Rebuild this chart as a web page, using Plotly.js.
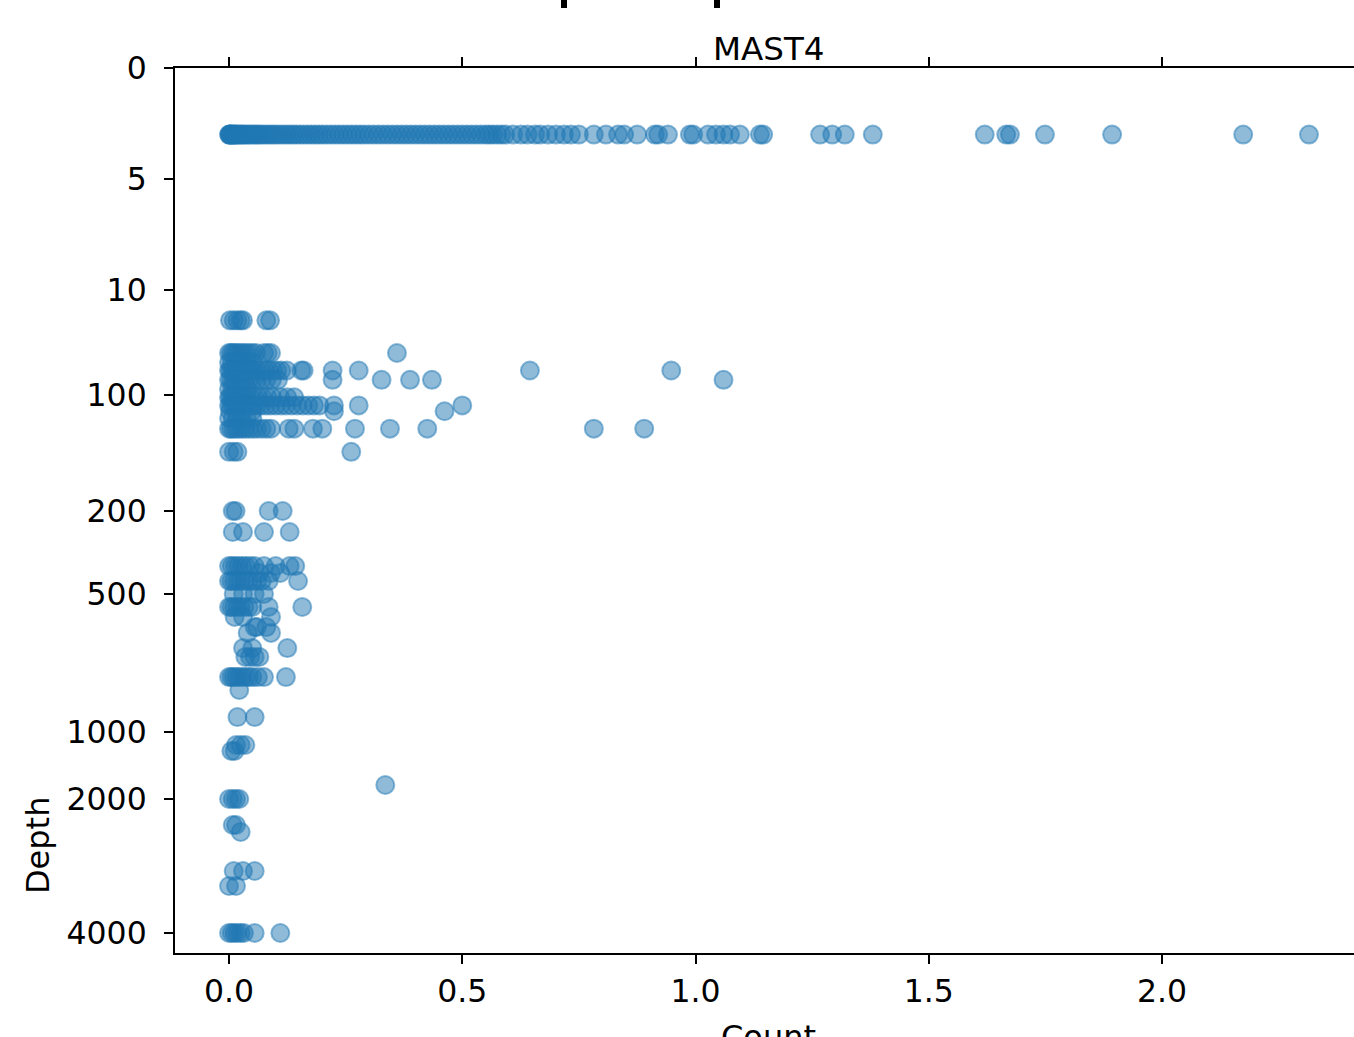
<!DOCTYPE html>
<html>
<head>
<meta charset="utf-8">
<script src="https://cdn.plot.ly/plotly-3.0.1.min.js"></script>
<style>html,body{margin:0;padding:0;overflow:hidden;background:#fff}</style>
</head>
<body>
<div id="chart" style="width:1362px;height:1037px"></div>
<script>
// Y scale: tick depths and their (non-uniform) positions on the depth axis
const tickDepths = [0, 5, 10, 100, 200, 500, 1000, 2000, 4000];
const tickLabels = ['0', '5', '10', '100', '200', '500', '1000', '2000', '4000'];
const tickPositions = [0, 111, 222, 327, 443, 526, 664, 731, 865];

const xTickVals = [0, 0.5, 1.0, 1.5, 2.0];
const xTickText = ['0.0', '0.5', '1.0', '1.5', '2.0'];

// Depth of each sampled level
const rowDepths = [3, 36, 64, 72, 79, 87, 95, 102, 109, 114, 120, 129, 149, 200, 276, 399, 424, 453, 500, 547, 583, 620, 641, 696, 728, 801, 848, 946, 1194, 1284, 1791, 2000, 2388, 2493, 3075, 3299, 4000];

// MAST4 counts observed at each level (same order as rowDepths)
const rowCounts = [
  [0, 0.001, 0.002, 0.003, 0.004, 0.006, 0.008, 0.01, 0.012, 0.014, 0.016, 0.019, 0.022, 0.025, 0.028, 0.031, 0.035, 0.039, 0.043, 0.047, 0.052, 0.057, 0.062, 0.067, 0.072, 0.078, 0.084, 0.09, 0.096, 0.102, 0.109, 0.116, 0.123, 0.13, 0.137, 0.144, 0.152, 0.16, 0.168, 0.176, 0.184, 0.192, 0.2, 0.209, 0.218, 0.227, 0.236, 0.245, 0.254, 0.263, 0.272, 0.281, 0.29, 0.3, 0.31, 0.32, 0.33, 0.34, 0.35, 0.36, 0.37, 0.38, 0.39, 0.4, 0.41, 0.42, 0.43, 0.44, 0.45, 0.46, 0.47, 0.48, 0.49, 0.5, 0.51, 0.52, 0.53, 0.54, 0.55, 0.558, 0.566, 0.575, 0.584, 0.592, 0.609, 0.626, 0.64, 0.656, 0.667, 0.684, 0.701, 0.718, 0.733, 0.75, 0.782, 0.808, 0.834, 0.847, 0.875, 0.913, 0.92, 0.941, 0.988, 0.995, 1.027, 1.044, 1.06, 1.074, 1.095, 1.138, 1.145, 1.267, 1.293, 1.32, 1.38, 1.62, 1.666, 1.674, 1.749, 1.893, 2.174, 2.315],
  [0.002, 0.01, 0.018, 0.025, 0.03, 0.08, 0.088],
  [0, 0.004, 0.008, 0.013, 0.018, 0.024, 0.03, 0.036, 0.043, 0.05, 0.058, 0.075, 0.083, 0.09, 0.36],
  [0, 0.006, 0.014, 0.022, 0.031, 0.04, 0.05],
  [0, 0.003, 0.007, 0.012, 0.017, 0.022, 0.028, 0.034, 0.04, 0.047, 0.054, 0.061, 0.069, 0.077, 0.085, 0.094, 0.103, 0.112, 0.124, 0.155, 0.16, 0.222, 0.278, 0.645, 0.948],
  [0, 0.004, 0.009, 0.015, 0.021, 0.028, 0.035, 0.043, 0.051, 0.06, 0.07, 0.08, 0.092, 0.105, 0.222, 0.327, 0.388, 0.435, 1.06],
  [0, 0.007, 0.016, 0.026, 0.037],
  [0, 0.003, 0.007, 0.012, 0.018, 0.024, 0.031, 0.038, 0.046, 0.054, 0.063, 0.072, 0.082, 0.093, 0.11, 0.125, 0.14],
  [0, 0.004, 0.009, 0.015, 0.021, 0.028, 0.035, 0.043, 0.051, 0.06, 0.069, 0.079, 0.089, 0.1, 0.111, 0.122, 0.134, 0.146, 0.158, 0.17, 0.182, 0.194, 0.225, 0.278, 0.5],
  [0.002, 0.015, 0.03, 0.05, 0.225, 0.462],
  [0, 0.008, 0.017, 0.027, 0.038, 0.05],
  [0, 0.004, 0.009, 0.015, 0.021, 0.028, 0.035, 0.043, 0.051, 0.06, 0.07, 0.08, 0.09, 0.128, 0.14, 0.18, 0.2, 0.27, 0.345, 0.425, 0.782, 0.89],
  [0, 0.01, 0.018, 0.262],
  [0.008, 0.014, 0.085, 0.115],
  [0.008, 0.03, 0.075, 0.13],
  [0, 0.006, 0.013, 0.02, 0.028, 0.036, 0.045, 0.055, 0.075, 0.1, 0.13, 0.142],
  [0.065, 0.09, 0.11],
  [0, 0.005, 0.011, 0.018, 0.025, 0.033, 0.042, 0.05, 0.06, 0.07, 0.085, 0.148],
  [0.01, 0.03, 0.055, 0.075],
  [0, 0.005, 0.011, 0.018, 0.025, 0.033, 0.042, 0.05, 0.085, 0.157],
  [0.012, 0.03, 0.09],
  [0.055, 0.06, 0.08],
  [0.04, 0.09],
  [0.03, 0.05, 0.125],
  [0.035, 0.045, 0.055, 0.065],
  [0, 0.005, 0.01, 0.016, 0.022, 0.029, 0.036, 0.043, 0.05, 0.062, 0.075, 0.122],
  [0.022],
  [0.018, 0.055],
  [0.015, 0.025, 0.035],
  [0.005, 0.012],
  [0.335],
  [0, 0.008, 0.015, 0.022],
  [0.008, 0.015],
  [0.025],
  [0.01, 0.03, 0.055],
  [0, 0.015],
  [0, 0.006, 0.012, 0.018, 0.025, 0.032, 0.055, 0.11]
];

// piecewise-linear depth scale through the tick anchors
function depthToPos(d) {
  for (let i = 1; i < tickDepths.length; i++) {
    if (d <= tickDepths[i]) {
      const t = (d - tickDepths[i - 1]) / (tickDepths[i] - tickDepths[i - 1]);
      return tickPositions[i - 1] + t * (tickPositions[i] - tickPositions[i - 1]);
    }
  }
  return tickPositions[tickPositions.length - 1];
}

const xs = [], ys = [], depthsFlat = [];
rowDepths.forEach((d, i) => {
  rowCounts[i].forEach(c => { xs.push(c); ys.push(depthToPos(d)); depthsFlat.push(d); });
});

const FONT = 'DejaVu Sans, sans-serif';
const FILL = 'rgba(31,119,180,0.5)';

const trace = {
  type: 'scatter', mode: 'markers', x: xs, y: ys, customdata: depthsFlat,
  hovertemplate: 'Count %{x}<br>Depth %{customdata}<extra></extra>',
  marker: { color: FILL, size: 18, opacity: 1, line: { color: FILL, width: 2 } }
};

const layout = {
  width: 1362, height: 1037,
  margin: { l: 175, r: 1, t: 68, b: 84, pad: 0 },
  paper_bgcolor: '#fff', plot_bgcolor: '#fff',
  showlegend: false,
  font: { family: FONT, size: 32, color: '#000' },
  xaxis: {
    range: [-0.1158, 2.4265], tickvals: xTickVals, ticktext: xTickText,
    ticks: 'outside', ticklen: 9, tickwidth: 2, tickcolor: '#000',
    showline: true, linewidth: 2, linecolor: '#000', mirror: 'ticks',
    showgrid: false, zeroline: false,
    tickfont: { family: FONT, size: 31.5, color: '#000' }
  },
  yaxis: {
    range: [885, 0], tickvals: tickPositions, ticktext: tickLabels,
    ticks: 'outside', ticklen: 9, tickwidth: 2, tickcolor: '#000',
    ticklabelstandoff: 11,
    showline: true, linewidth: 2, linecolor: '#000',
    showgrid: false, zeroline: false,
    tickfont: { family: FONT, size: 31.5, color: '#000' }
  },
  annotations: [
    { text: 'MAST4', xref: 'paper', yref: 'paper', x: 0.5, y: 1, xanchor: 'center', yanchor: 'bottom',
      yshift: -2, showarrow: false, font: { family: FONT, size: 32.5, color: '#000' } },
    { text: 'Depth', xref: 'paper', yref: 'paper', x: -0.1155, y: 0.1209, xanchor: 'center', yanchor: 'middle',
      textangle: -90, showarrow: false, font: { family: FONT, size: 32, color: '#000' } },
    { text: 'Count', xref: 'paper', yref: 'paper', x: 0.5, y: -0.0757, xanchor: 'center', yanchor: 'top',
      yshift: 4, showarrow: false, font: { family: FONT, size: 32, color: '#000' } }
  ],
  shapes: [
    { type: 'rect', xref: 'paper', yref: 'paper', x0: (561 - 175) / 1186, x1: (567 - 175) / 1186, y0: (953 - 8) / 885, y1: (953 - 0) / 885,
      fillcolor: '#000', line: { width: 0 } },
    { type: 'rect', xref: 'paper', yref: 'paper', x0: (714 - 175) / 1186, x1: (720 - 175) / 1186, y0: (953 - 8) / 885, y1: (953 - 0) / 885,
      fillcolor: '#000', line: { width: 0 } }
  ]
};

Plotly.newPlot('chart', [trace], layout, { displayModeBar: false });
</script>
</body>
</html>
